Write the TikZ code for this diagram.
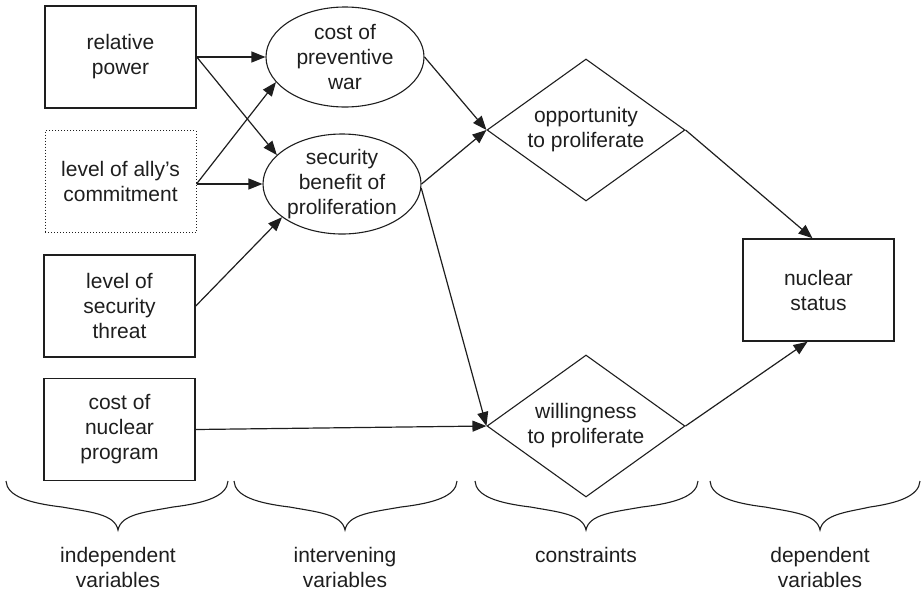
\documentclass[tikz,border=0pt]{standalone}
\usepackage{fontspec}
\setmainfont{Liberation Sans}
\usetikzlibrary{shapes.geometric,arrows.meta}
\definecolor{ink}{HTML}{1E1E1E}
\newcommand{\mybrace}[3]{%
  \draw[bracepath] (#1,481) .. controls ({#1+1},496) and ({#1+22},503) .. ({(#1+#2)/2},507)
    .. controls ({#2-28},512) and ({#2-3},514) .. (#2,530)
    .. controls ({#2+3},514) and ({#2+28},512) .. ({(#2+#3)/2},507)
    .. controls ({#3-22},503) and ({#3-1},496) .. (#3,481);}
\begin{document}
\begin{tikzpicture}[x=1pt,y=-1pt,
  every node/.style={text=ink,font=\fontsize{21}{25}\selectfont,align=center},
  box/.style={draw=ink,line width=1.5pt,rectangle,minimum width=151pt,minimum height=102pt,inner sep=0pt},
  dotbox/.style={box,line width=1pt,dotted},
  oval/.style={draw=ink,line width=1.1pt,ellipse,minimum width=158pt,minimum height=100pt,inner sep=0pt},
  dia/.style={draw=ink,line width=1.1pt,diamond,shape aspect=1.394,minimum width=198pt,minimum height=142pt,inner sep=0pt},
  arr/.style={draw=ink,line width=1.2pt,-{Triangle[length=14pt,width=11pt]}},
  bracepath/.style={draw=ink,line width=1.1pt}]
\useasboundingbox (0,0) rectangle (923,590);
\node[box] (rp) at (120.5,57) {relative\\power};
\node[dotbox] (ally) at (120.5,181.5) {level of ally’s\\commitment};
\node[box] (thr) at (119.5,306) {level of\\security\\threat};
\node[box] (cnp) at (119.5,429.5) {cost of\\nuclear\\program};
\node[oval] (cost) at (345,57) {cost of\\preventive\\war};
\node[oval] (sec) at (342,184) {security\\benefit of\\proliferation};
\node[dia] (opp) at (586,130) {opportunity\\to proliferate};
\node[dia] (wil) at (586,426) {willingness\\to proliferate};
\node[box] (ns) at (818.5,290) {nuclear\\status};
\draw[arr] (rp.east) -- (cost.west);
\draw[arr] (rp.east) -- (sec.156);
\draw[arr] (ally.east |- sec.west) -- (cost.200);
\draw[arr] (ally.east |- sec.west) -- (sec.west);
\draw[arr] (thr.east) -- (sec.209);
\draw[arr] (cost.east) -- (opp.west);
\draw[arr] (sec.east) -- (opp.west);
\draw[arr] (sec.-3) -- (wil.west);
\draw[arr] (cnp.east) -- (wil.west);
\draw[arr] (opp.east) -- ([xshift=-6pt]ns.north);
\draw[arr] (wil.east) -- ([xshift=-11pt]ns.south);
\mybrace{6}{118}{228}
\mybrace{234}{345}{457}
\mybrace{475}{586}{698}
\mybrace{710}{820}{920}
\node (l1) at (118,567) {independent\\variables};
\node (l2) at (345,567) {intervening\\variables};
\node (l3) at (586,555) {constraints};
\node (l4) at (820,567) {dependent\\variables};
\end{tikzpicture}
\end{document}
